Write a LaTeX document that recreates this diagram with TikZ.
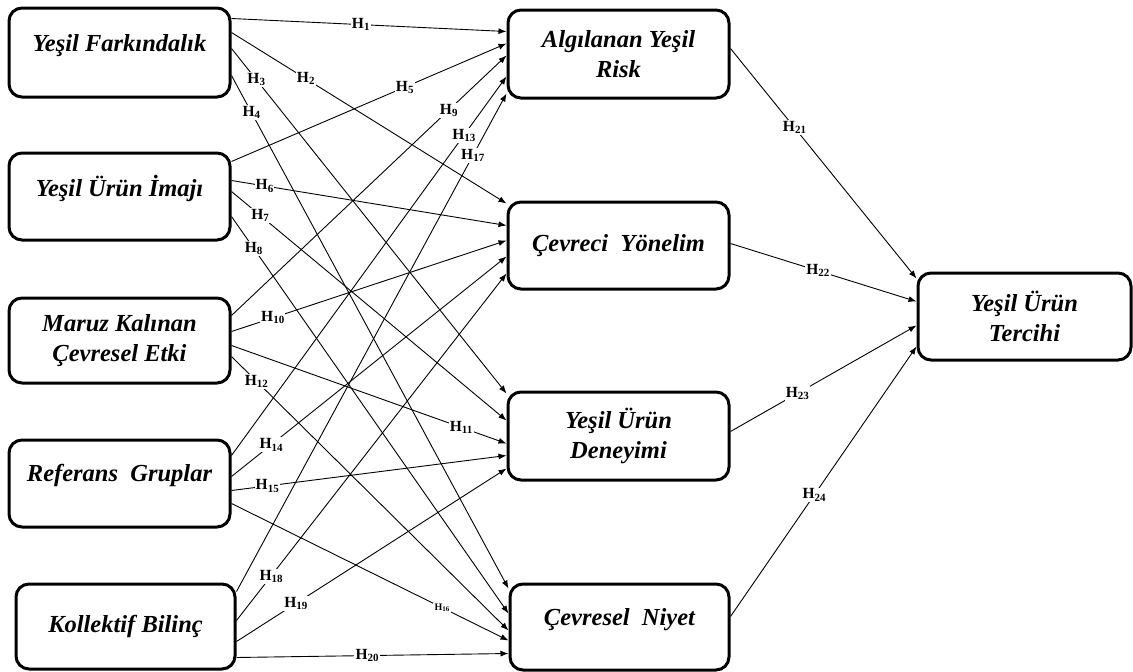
\documentclass[tikz,border=0pt]{standalone}
\usepackage{fontspec}
\setmainfont{Liberation Serif}
\usetikzlibrary{arrows.meta,calc}
\newcommand{\hh}[1]{H\raisebox{-2.2pt}{\fontsize{11}{11}\selectfont #1}}
\newcommand{\hsmall}[1]{{\fontsize{10}{10}\selectfont H\raisebox{-1.2pt}{\fontsize{7}{7}\selectfont #1}}}
\newcommand{\up}[2]{\raisebox{#1}[\height][\depth]{#2}}
\begin{document}
\begin{tikzpicture}[x=1pt,y=-1pt,
  box/.style={draw, line width=3pt, rounded corners=13pt, minimum width=221pt,
    minimum height=88pt, align=center, inner sep=0pt,
    font=\fontsize{24.5}{30}\selectfont\bfseries\itshape},
  arr/.style={line width=0.9pt, -{Latex[length=8pt,width=6pt]}},
  lab/.style={fill=white, inner sep=1.2pt, font=\fontsize{15.5}{15.5}\selectfont\bfseries}]
\useasboundingbox (0,0) rectangle (1133,672);

% left column
\node[box, minimum height=89pt] (F1) at (119.5,52.5) {\up{7pt}{Yeşil Farkındalık}};
\node[box, minimum height=87pt] (F2) at (119.5,196.5) {\up{8pt}{Yeşil Ürün İmajı}};
\node[box, minimum height=85pt] (F3) at (119.5,340.5) {Maruz Kalınan\\Çevresel Etki};
\node[box, minimum height=87pt] (F4) at (119.5,483.5) {\up{8pt}{Referans\ \ Gruplar}};
\node[box, minimum width=219pt, minimum height=85pt] (F5) at (125.5,626.5) {Kollektif Bilinç};

% middle column
\node[box] (A) at (618.5,54) {Algılanan Yeşil\\Risk};
\node[box, minimum height=87pt] (C) at (618.5,245.5) {Çevreci\ \ Yönelim};
\node[box] (D) at (618.5,436) {Yeşil Ürün\\Deneyimi};
\node[box, minimum width=219pt, minimum height=86pt] (N) at (619.5,627) {\up{7pt}{Çevresel\ \ Niyet}};

% right
\node[box, minimum width=213pt, minimum height=87pt] (T) at (1024.5,316.5) {Yeşil Ürün\\Tercihi};

% from F1
\draw[arr] ($(F1.north east)+(0,12)$) -- node[lab,pos=.47]{\hh{1}} ($(A.north west)+(0,23)$);
\draw[arr] ($(F1.north east)+(0,26)$) -- node[lab,pos=.27]{\hh{2}} ($(C.north west)+(0,3)$);
\draw[arr] ($(F1.north east)+(0,42)$) -- node[lab,pos=.09]{\hh{3}} ($(D.north west)+(0,3)$);
\draw[arr] ($(F1.north east)+(0,69)$) -- node[lab,pos=.072]{\hh{4}} ($(N.north west)+(0,6)$);
% from F2
\draw[arr] ($(F2.north east)+(0,10)$) -- node[lab,pos=.63]{\hh{5}} ($(A.north west)+(0,35)$);
\draw[arr] ($(F2.north east)+(0,29)$) -- node[lab,pos=.12]{\hh{6}} ($(C.north west)+(0,25)$);
\draw[arr] ($(F2.north east)+(0,40)$) -- node[lab,pos=.104]{\hh{7}} ($(D.north west)+(0,30)$);
\draw[arr] ($(F2.north east)+(0,65)$) -- node[lab,pos=.08]{\hh{8}} ($(N.north west)+(0,31)$);
% from F3
\draw[arr] ($(F3.north east)+(0,19)$) -- node[lab,pos=.79]{\hh{9}} ($(A.north west)+(0,47)$);
\draw[arr] ($(F3.north east)+(0,35)$) -- node[lab,pos=.15]{\hh{10}} ($(C.north west)+(0,40)$);
\draw[arr] ($(F3.north east)+(0,49)$) -- node[lab,pos=.835]{\hh{11}} ($(D.north west)+(0,53)$);
\draw[arr] ($(F3.north east)+(0,60)$) -- node[lab,pos=.09]{\hh{12}} ($(N.north west)+(0,48)$);
% from F4
\draw[arr] ($(F4.north east)+(0,17)$) -- node[lab,pos=.845]{\hh{13}} ($(A.north west)+(0,68)$);
\draw[arr] ($(F4.north east)+(0,38)$) -- node[lab,pos=.144]{\hh{14}} ($(C.north west)+(0,56)$);
\draw[arr] ($(F4.north east)+(0,52)$) -- node[lab,pos=.13]{\hh{15}} ($(D.north west)+(0,65)$);
\draw[arr] ($(F4.north east)+(0,65)$) -- node[lab,pos=.76]{\hsmall{16}} ($(N.north west)+(0,58)$);
% from F5
\draw[arr] ($(F5.north east)+(0,9)$) -- node[lab,pos=.875]{\hh{17}} ($(A.north west)+(0,85)$);
\draw[arr] ($(F5.north east)+(0,38)$) -- node[lab,pos=.128]{\hh{18}} ($(C.north west)+(0,73)$);
\draw[arr] ($(F5.north east)+(0,59)$) -- node[lab,pos=.22]{\hh{19}} ($(D.north west)+(0,78)$);
\draw[arr] ($(F5.north east)+(0,75)$) -- node[lab,pos=.48]{\hh{20}} ($(N.north west)+(0,71)$);
% to T
\draw[arr] ($(A.north east)+(0,40)$) -- node[lab,pos=.344]{\hh{21}} ($(T.north west)+(0,7)$);
\draw[arr] ($(C.north east)+(0,43)$) -- node[lab,pos=.47]{\hh{22}} ($(T.north west)+(0,30)$);
\draw[arr] ($(D.north east)+(0,41)$) -- node[lab,pos=.36]{\hh{23}} ($(T.north west)+(0,54)$);
\draw[arr] ($(N.north east)+(0,34)$) -- node[lab,pos=.45]{\hh{24}} ($(T.north west)+(0,75)$);
\end{tikzpicture}
\end{document}
